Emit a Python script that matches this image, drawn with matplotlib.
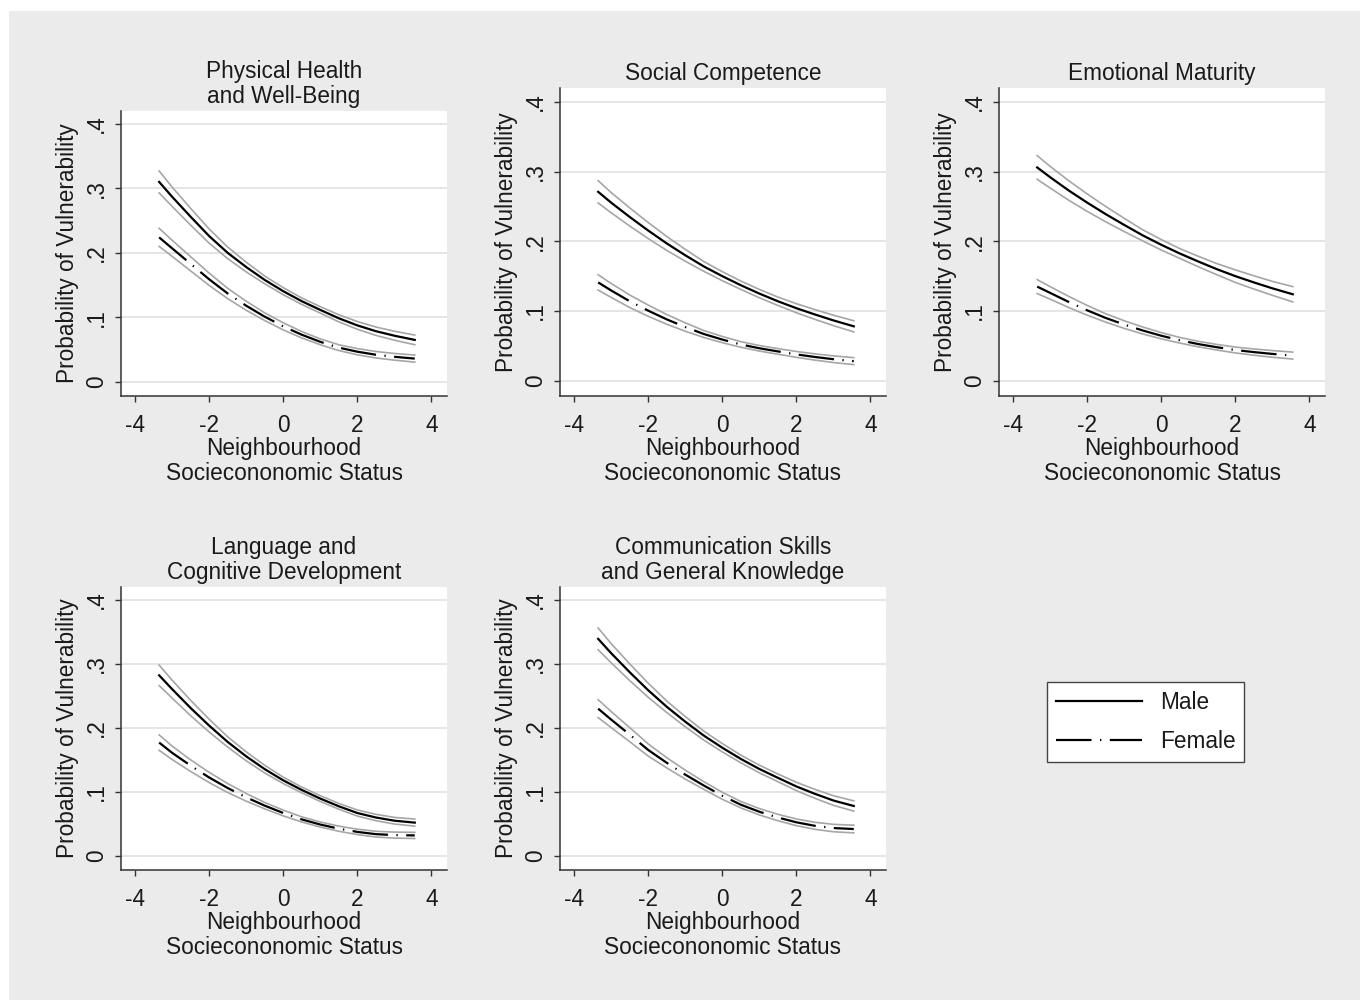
import matplotlib
matplotlib.use('Agg')
import matplotlib.pyplot as plt
import numpy as np
from matplotlib.lines import Line2D
from matplotlib.patches import Rectangle

plt.rcParams['font.family'] = ['Liberation Sans', 'DejaVu Sans']
plt.rcParams['axes.unicode_minus'] = False

# neighbourhood SES values where the curves were read
ses = [-3.35, -3, -2.5, -2, -1.5, -1, -0.5, 0, 0.5, 1, 1.5, 2, 2.5, 3, 3.55]

titles = ['Physical Health\nand Well-Being', 'Social Competence', 'Emotional Maturity',
          'Language and\nCognitive Development', 'Communication Skills\nand General Knowledge']

# predicted probability, male / female
phys_male = [0.310, 0.287, 0.256, 0.226, 0.200, 0.178, 0.158, 0.1405, 0.125, 0.1115, 0.0985, 0.0875, 0.0785, 0.0715, 0.065]
phys_female = [0.224, 0.207, 0.183, 0.159, 0.137, 0.118, 0.101, 0.086, 0.073, 0.062, 0.053, 0.0467, 0.042, 0.0388, 0.036]
social_male = [0.271, 0.2555, 0.235, 0.2155, 0.197, 0.180, 0.164, 0.150, 0.137, 0.125, 0.114, 0.104, 0.095, 0.0865, 0.078]
social_female = [0.141, 0.1295, 0.114, 0.1005, 0.088, 0.077, 0.067, 0.059, 0.052, 0.0465, 0.042, 0.0377, 0.034, 0.0308, 0.028]
emo_male = [0.306, 0.292, 0.273, 0.2555, 0.239, 0.2235, 0.2085, 0.195, 0.1825, 0.171, 0.160, 0.150, 0.141, 0.1325, 0.124]
emo_female = [0.135, 0.126, 0.113, 0.101, 0.090, 0.0805, 0.072, 0.0645, 0.058, 0.0525, 0.048, 0.044, 0.041, 0.0384, 0.036]
lang_male = [0.282, 0.2605, 0.231, 0.2035, 0.178, 0.1555, 0.1355, 0.118, 0.103, 0.0895, 0.0775, 0.067, 0.060, 0.055, 0.052]
lang_female = [0.177, 0.161, 0.141, 0.1225, 0.106, 0.0915, 0.0785, 0.067, 0.057, 0.049, 0.0425, 0.0375, 0.034, 0.0325, 0.032]
comm_male = [0.339, 0.3167, 0.287, 0.2588, 0.233, 0.2097, 0.188, 0.169, 0.1515, 0.1358, 0.122, 0.1085, 0.097, 0.0865, 0.078]
comm_female = [0.230, 0.213, 0.1895, 0.1655, 0.1455, 0.127, 0.110, 0.094, 0.080, 0.069, 0.060, 0.0525, 0.047, 0.0435, 0.042]

# half width of the 95% CI
phys_male_ci = [0.017, 0.015, 0.013, 0.011, 0.009, 0.0075, 0.006, 0.0055, 0.005, 0.005, 0.0055, 0.006, 0.0065, 0.007, 0.0075]
phys_female_ci = [0.014, 0.0125, 0.011, 0.0095, 0.008, 0.007, 0.006, 0.0055, 0.005, 0.0045, 0.0045, 0.0048, 0.005, 0.0052, 0.0055]
social_male_ci = [0.016, 0.0145, 0.013, 0.0115, 0.010, 0.0085, 0.007, 0.0065, 0.006, 0.006, 0.006, 0.0065, 0.007, 0.0075, 0.008]
social_female_ci = [0.011, 0.010, 0.009, 0.008, 0.007, 0.006, 0.005, 0.0045, 0.004, 0.004, 0.004, 0.0042, 0.0045, 0.0048, 0.005]
emo_male_ci = [0.017, 0.0155, 0.014, 0.0125, 0.011, 0.0095, 0.008, 0.0075, 0.007, 0.0075, 0.008, 0.009, 0.0095, 0.010, 0.011]
emo_female_ci = [0.010, 0.009, 0.008, 0.007, 0.006, 0.0055, 0.005, 0.0045, 0.004, 0.004, 0.004, 0.0042, 0.0045, 0.0048, 0.005]
lang_male_ci = [0.016, 0.014, 0.012, 0.010, 0.008, 0.007, 0.006, 0.005, 0.0045, 0.0045, 0.0045, 0.0048, 0.005, 0.0052, 0.0055]
lang_female_ci = [0.012, 0.0105, 0.009, 0.008, 0.007, 0.006, 0.005, 0.0045, 0.004, 0.004, 0.004, 0.0042, 0.0045, 0.0047, 0.0048]
comm_male_ci = [0.017, 0.015, 0.013, 0.011, 0.009, 0.008, 0.007, 0.0065, 0.006, 0.006, 0.006, 0.0065, 0.007, 0.0075, 0.008]
comm_female_ci = [0.014, 0.0125, 0.011, 0.0095, 0.008, 0.007, 0.006, 0.0055, 0.005, 0.005, 0.005, 0.0052, 0.0055, 0.0058, 0.006]

males = [phys_male, social_male, emo_male, lang_male, comm_male]
females = [phys_female, social_female, emo_female, lang_female, comm_female]
males_ci = [phys_male_ci, social_male_ci, emo_male_ci, lang_male_ci, comm_male_ci]
females_ci = [phys_female_ci, social_female_ci, emo_female_ci, lang_female_ci, comm_female_ci]

xticks = [-4, -2, 0, 2, 4]
xticklabels = ['-4', '-2', '0', '2', '4']
yticks = [0, 0.1, 0.2, 0.3, 0.4]
yticklabels = ['0', '.1', '.2', '.3', '.4']

W, H = 1360, 1000
fig = plt.figure(figsize=(13.6, 10), dpi=100, facecolor='white')
fig.patches.append(Rectangle((9 / W, 0), 1 - 9 / W, 1 - 11 / H, transform=fig.transFigure,
                             facecolor='#ebebeb', edgecolor='none', zorder=-10))

# axes boxes in pixels: left, right, top, bottom
boxes = [(121, 447, 111, 396), (560, 886, 88, 396), (999, 1325, 88, 396),
         (121, 447, 587, 870), (560, 886, 587, 870)]

dash_dot = (0, (16, 3.8, 0.6, 3.8))
txt = '#1a1a1a'
fs = 16.3

for i, (l, r, t, b) in enumerate(boxes):
    ax = fig.add_axes([l / W, 1 - b / H, (r - l) / W, (b - t) / H])
    ax.set_facecolor('white')
    x = np.array(ses)
    m, f = np.array(males[i]), np.array(females[i])
    mc, fc = np.array(males_ci[i]), np.array(females_ci[i])
    for y in (m + mc, m - mc, f + fc, f - fc):
        ax.plot(x, y, color='#a6a6a6', lw=1.2, zorder=2)
    ax.plot(x, m, color='black', lw=1.6, zorder=3)
    ax.plot(x, f, color='black', lw=1.6, ls=dash_dot, zorder=3)

    ax.set_xlim(-4.38, 4.42)
    ax.set_ylim(-0.022, 0.42)
    ax.set_xticks(xticks)
    ax.set_xticklabels(xticklabels)
    ax.set_yticks(yticks)
    ax.set_yticklabels(yticklabels, rotation=90, va='center')
    ax.grid(axis='y', color='#e3e3e3', lw=1.3)
    ax.set_axisbelow(True)
    for s in ('top', 'right'):
        ax.spines[s].set_visible(False)
    for s in ('left', 'bottom'):
        ax.spines[s].set_color('#333333')
        ax.spines[s].set_linewidth(1.1)
    ax.tick_params(axis='both', direction='out', length=4.5, width=1.0, color='#333333',
                   labelsize=fs, labelcolor=txt)
    ax.tick_params(axis='x', pad=8.5)
    ax.tick_params(axis='y', pad=5)
    ax.set_title(titles[i], fontsize=fs, color=txt, pad=6, linespacing=1.09)
    ax.set_xlabel('Neighbourhood\nSociecononomic Status', fontsize=fs, color=txt,
                  labelpad=0, linespacing=1.09)
    ax.set_ylabel('Probability of Vulnerability', fontsize=fs, color=txt, labelpad=4)

handles = [Line2D([], [], color='black', lw=1.6),
           Line2D([], [], color='black', lw=1.6, ls=dash_dot)]
leg = fig.legend(handles, ['Male', 'Female'], loc='center', bbox_to_anchor=(1145.5 / W, 1 - 722 / H),
                 fontsize=fs, frameon=True, fancybox=False, framealpha=1, edgecolor='#444444',
                 handlelength=3.8, handletextpad=0.8, labelspacing=0.72, borderpad=0.4)
leg.get_frame().set_linewidth(1.0)
for tx in leg.get_texts():
    tx.set_color(txt)

fig.savefig('out.png', dpi=100, facecolor=fig.get_facecolor())
